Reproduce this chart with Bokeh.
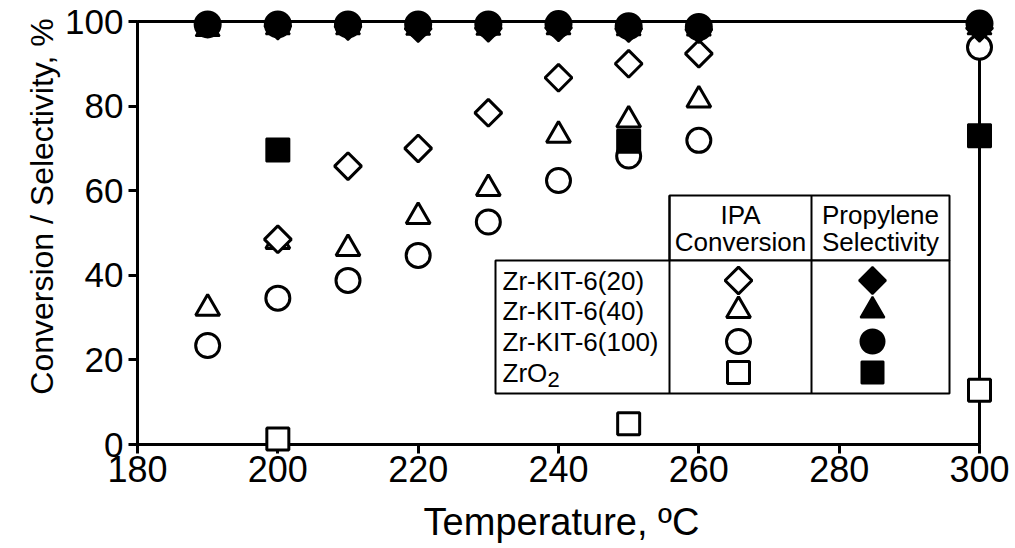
import numpy as np
from bokeh.plotting import figure
from bokeh.models import Range1d, FixedTicker
from bokeh.core.properties import value
from bokeh.embed import file_html
from bokeh.resources import INLINE

# ---------------- data ----------------
# IPA conversion, %
conv20_t = [200, 210, 220, 230, 240, 250, 260]
conv20 = [48.5, 65.8, 70.0, 78.4, 86.7, 90.0, 92.4]
conv40_t = [190, 200, 210, 220, 230, 240, 250, 260]
conv40 = [32.2, 48.0, 46.3, 53.9, 60.5, 73.1, 76.7, 81.4]
conv100_t = [190, 200, 210, 220, 230, 240, 250, 260, 300]
conv100 = [23.4, 34.6, 38.8, 44.7, 52.6, 62.4, 68.2, 71.9, 93.9]
convZr_t = [200, 250, 300]
convZr = [1.3, 4.9, 12.8]

# Propylene selectivity, %
sel20_t = [200, 210, 220, 230, 240, 250, 260, 300]
sel20 = [98.9, 98.8, 98.3, 98.4, 98.5, 98.3, 98.1, 98.4]
sel40_t = [190, 200, 210, 220, 230, 240, 250, 260, 300]
sel40 = [98.2, 98.6, 98.6, 98.5, 98.5, 98.6, 98.4, 98.3, 98.6]
sel100_t = [190, 200, 210, 220, 230, 240, 250, 260, 300]
sel100 = [99.3, 99.3, 99.3, 99.3, 99.3, 99.4, 98.9, 98.7, 99.5]
selZr_t = [200, 250, 300]
selZr = [69.6, 71.7, 73.0]

x_ticks = [180, 200, 220, 240, 260, 280, 300]
y_ticks = [0, 20, 40, 60, 80, 100]

x_title = "Temperature, ºC"
y_title = "Conversion / Selectivity, %"
row_labels = ["Zr-KIT-6(20)", "Zr-KIT-6(40)", "Zr-KIT-6(100)", "ZrO"]
header_conv = ["IPA", "Conversion"]
header_sel = ["Propylene", "Selectivity"]

FONT = "Liberation Sans"

# ---------------- layout ----------------
W, H = 1015, 548
FL, FR, FT, FB = 137, 979, 21, 444
X0, X1, Y0, Y1 = 180, 300, 0, 100


def px2x(px):
    return X0 + (px - FL) * (X1 - X0) / (FR - FL)


def py2y(py):
    return Y0 + (FB - py) * (Y1 - Y0) / (FB - FT)


p = figure(width=W, height=H, x_range=Range1d(X0, X1), y_range=Range1d(Y0, Y1),
           output_backend="svg", toolbar_location=None,
           min_border_left=FL, min_border_right=W - FR,
           min_border_top=FT, min_border_bottom=H - FB)
p.xgrid.visible = False
p.ygrid.visible = False
p.outline_line_color = "black"
p.outline_line_width = 3
p.outline_line_alpha = 1
p.background_fill_color = "white"
p.border_fill_color = "white"

for ax in (p.xaxis[0], p.yaxis[0]):
    ax.axis_line_width = 3
    ax.axis_line_color = "black"
    ax.major_tick_line_width = 3
    ax.major_tick_line_color = "black"
    ax.major_tick_in = 0
    ax.major_tick_out = 9
    ax.minor_tick_line_color = None
    ax.major_label_text_font = FONT
    ax.major_label_text_color = "black"

p.xaxis[0].major_label_text_font_size = "36px"
p.yaxis[0].major_label_text_font_size = "35px"
p.xaxis[0].ticker = FixedTicker(ticks=x_ticks)
p.yaxis[0].ticker = FixedTicker(ticks=y_ticks)
p.xaxis[0].major_label_standoff = 2
p.yaxis[0].major_label_standoff = 5

# axis titles placed as text
title_kw = dict(text_font=value(FONT), text_color="black", level="overlay")
p.text(x=[px2x(561)], y=[py2y(521)], text=[x_title], text_font_size="38px",
       text_align="center", text_baseline="middle", **title_kw)
p.text(x=[px2x(41)], y=[py2y(206)], text=[y_title], text_font_size="32px",
       angle=np.pi / 2, text_align="center", text_baseline="middle", **title_kw)

LW = 3
S_CIRC, S_TRI, S_SQ, S_DIA = 24, 24, 22, 19
DIA_ANG = np.pi / 4

# open markers (conversion)
open_kw = dict(fill_color="white", line_color="black", line_width=LW, level="overlay")
p.scatter(convZr_t, convZr, marker="square", size=S_SQ, **open_kw)
p.scatter(conv100_t, conv100, marker="circle", size=S_CIRC, **open_kw)
p.scatter(conv40_t, conv40, marker="triangle", size=S_TRI, **open_kw)
p.scatter(conv20_t, conv20, marker="square", angle=DIA_ANG, size=S_DIA, **open_kw)

# filled markers (selectivity)
fill_kw = dict(fill_color="black", line_color="black", line_width=2, level="overlay")
p.scatter(selZr_t, selZr, marker="square", size=S_SQ + 1, **fill_kw)
p.scatter(sel40_t, sel40, marker="triangle", size=S_TRI, **fill_kw)
p.scatter(sel20_t, sel20, marker="square", angle=DIA_ANG, size=S_DIA, **fill_kw)
p.scatter(sel100_t, sel100, marker="circle", size=S_CIRC + 2, **fill_kw)

# ---------------- legend table ----------------
L_left, L_mid1, L_mid2, L_right = 495, 669, 811, 949
L_top, L_head, L_bot = 195, 260, 393
box_kw = dict(fill_color="white", line_color="black", line_width=2, level="overlay")
p.quad(left=[px2x(L_mid1)], right=[px2x(L_right)], top=[py2y(L_top)], bottom=[py2y(L_head)], **box_kw)
p.quad(left=[px2x(L_left)], right=[px2x(L_right)], top=[py2y(L_head)], bottom=[py2y(L_bot)], **box_kw)
p.segment(x0=[px2x(L_mid1), px2x(L_mid2)], y0=[py2y(L_top)] * 2,
          x1=[px2x(L_mid1), px2x(L_mid2)], y1=[py2y(L_bot)] * 2,
          line_color="black", line_width=2, level="overlay")

txt_kw = dict(text_font=value(FONT), text_font_size="26px", text_color="black",
              level="overlay")
hy = [py2y(214), py2y(241)]
p.text(x=[px2x((L_mid1 + L_mid2) / 2)] * 2, y=hy, text=header_conv,
       text_align="center", text_baseline="middle", **txt_kw)
p.text(x=[px2x((L_mid2 + L_right) / 2)] * 2, y=hy, text=header_sel,
       text_align="center", text_baseline="middle", **txt_kw)

row_py = [280, 310, 341, 372]
ry = [py2y(v) for v in row_py]
p.text(x=[px2x(502)] * 4, y=ry, text=row_labels,
       text_align="left", text_baseline="middle", **txt_kw)
p.text(x=[px2x(502)], y=[ry[3]], text=["2"], x_offset=[45], y_offset=[7],
       text_align="left", text_baseline="middle",
       text_font=value(FONT), text_font_size="22px", text_color="black", level="overlay")

mx_c = px2x(738)
mx_s = px2x(872)
p.scatter([mx_c], [ry[0]], marker="square", angle=DIA_ANG, size=S_DIA, **open_kw)
p.scatter([mx_c], [ry[1]], marker="triangle", size=S_TRI, **open_kw)
p.scatter([mx_c], [ry[2]], marker="circle", size=S_CIRC, **open_kw)
p.scatter([mx_c], [ry[3]], marker="square", size=S_SQ, **open_kw)
p.scatter([mx_s], [ry[0]], marker="square", angle=DIA_ANG, size=S_DIA, **fill_kw)
p.scatter([mx_s], [ry[1]], marker="triangle", size=S_TRI, **fill_kw)
p.scatter([mx_s], [ry[2]], marker="circle", size=S_CIRC, **fill_kw)
p.scatter([mx_s], [ry[3]], marker="square", size=S_SQ, **fill_kw)

open("out.html", "w").write(file_html(p, INLINE))
